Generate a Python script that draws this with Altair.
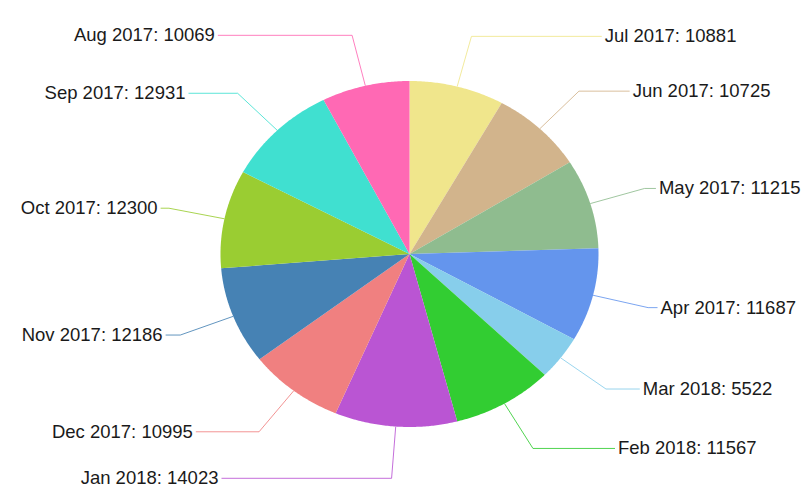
import altair as alt
import numpy as np
import pandas as pd

# ---- data (clockwise from 12 o'clock) ----
months = ["Jul 2017", "Jun 2017", "May 2017", "Apr 2017", "Mar 2018", "Feb 2018",
          "Jan 2018", "Dec 2017", "Nov 2017", "Oct 2017", "Sep 2017", "Aug 2017"]
values = [10881, 10725, 11215, 11687, 5522, 11567, 14023, 10995, 12186, 12300, 12931, 10069]
colors = ["#F0E68C", "#D2B48C", "#8FBC8F", "#6495ED", "#87CEEB", "#32CD32",
          "#BA55D3", "#F08080", "#4682B4", "#9ACD32", "#40E0D0", "#FF69B4"]

# ---- layout ----
W, H = 794, 481
CX, CY = 401.5, 246.0      # pie centre inside the plot area
RX, RY = 189.0, 173.0      # pie radii (the reference pie is slightly oval)
ELBOW_X, ELBOW_Y = 1.3, 1.3
RING = 1.345

total = float(sum(values))
cum = np.cumsum([0] + values)
start = cum[:-1] / total * 2 * np.pi
end = cum[1:] / total * 2 * np.pi
mid = (start + end) / 2

slice_rows = []
for i, name in enumerate(months):
    n = max(2, int(np.ceil((end[i] - start[i]) / np.radians(0.5))))
    angles = np.linspace(start[i], end[i], n + 1)
    slice_rows.append(dict(name=name, k=0, x=0.0, y=0.0))
    for j, a in enumerate(angles):
        slice_rows.append(dict(name=name, k=j + 1, x=RX * np.sin(a), y=RY * np.cos(a)))
slices = pd.DataFrame(slice_rows)

line_rows, label_rows = [], []
for i, name in enumerate(months):
    s, c = np.sin(mid[i]), np.cos(mid[i])
    side = 1.0 if s >= 0 else -1.0
    ey = ELBOW_Y * RY * c
    lx = side * RING * RX * np.sqrt(1 - (0.6616 * c) ** 2)
    pts = [(RX * s, RY * c), (ELBOW_X * RX * s, ey), (lx - side * 3, ey)]
    for k, (px, py) in enumerate(pts):
        line_rows.append(dict(name=name, k=k, x=px, y=py))
    label_rows.append(dict(name=name, x=lx, y=ey, side="R" if side > 0 else "L",
                           label=f"{name}: {values[i]}"))
lines = pd.DataFrame(line_rows)
labels = pd.DataFrame(label_rows)

xs = alt.Scale(domain=[-CX, W - CX], nice=False, zero=False)
ys = alt.Scale(domain=[-(H - CY), CY], nice=False, zero=False)
cs = alt.Scale(domain=months, range=colors)

X = alt.X("x:Q", scale=xs, axis=None)
Y = alt.Y("y:Q", scale=ys, axis=None)

pie = alt.Chart(slices).mark_line(filled=True, strokeWidth=0).encode(
    x=X, y=Y,
    color=alt.Color("name:N", scale=cs, legend=None),
    order=alt.Order("k:Q"),
)

leaders = alt.Chart(lines).mark_line(strokeWidth=1, opacity=0.85).encode(
    x=X, y=Y,
    color=alt.Color("name:N", scale=cs, legend=None),
    order=alt.Order("k:Q"),
)

txt_r = alt.Chart(labels[labels.side == "R"]).mark_text(
    align="left", baseline="middle", font="Liberation Sans", fontSize=18.5, color="#1a1a1a"
).encode(x=X, y=Y, text="label:N")

txt_l = alt.Chart(labels[labels.side == "L"]).mark_text(
    align="right", baseline="middle", font="Liberation Sans", fontSize=18.5, color="#1a1a1a"
).encode(x=X, y=Y, text="label:N")

chart = alt.layer(pie, leaders, txt_r, txt_l).properties(
    width=W, height=H, padding=0,
    autosize=alt.AutoSizeParams(type="none"),
    background="white",
).configure_view(stroke=None)

chart.save("out.html", embed_options={"renderer": "svg", "actions": False})
